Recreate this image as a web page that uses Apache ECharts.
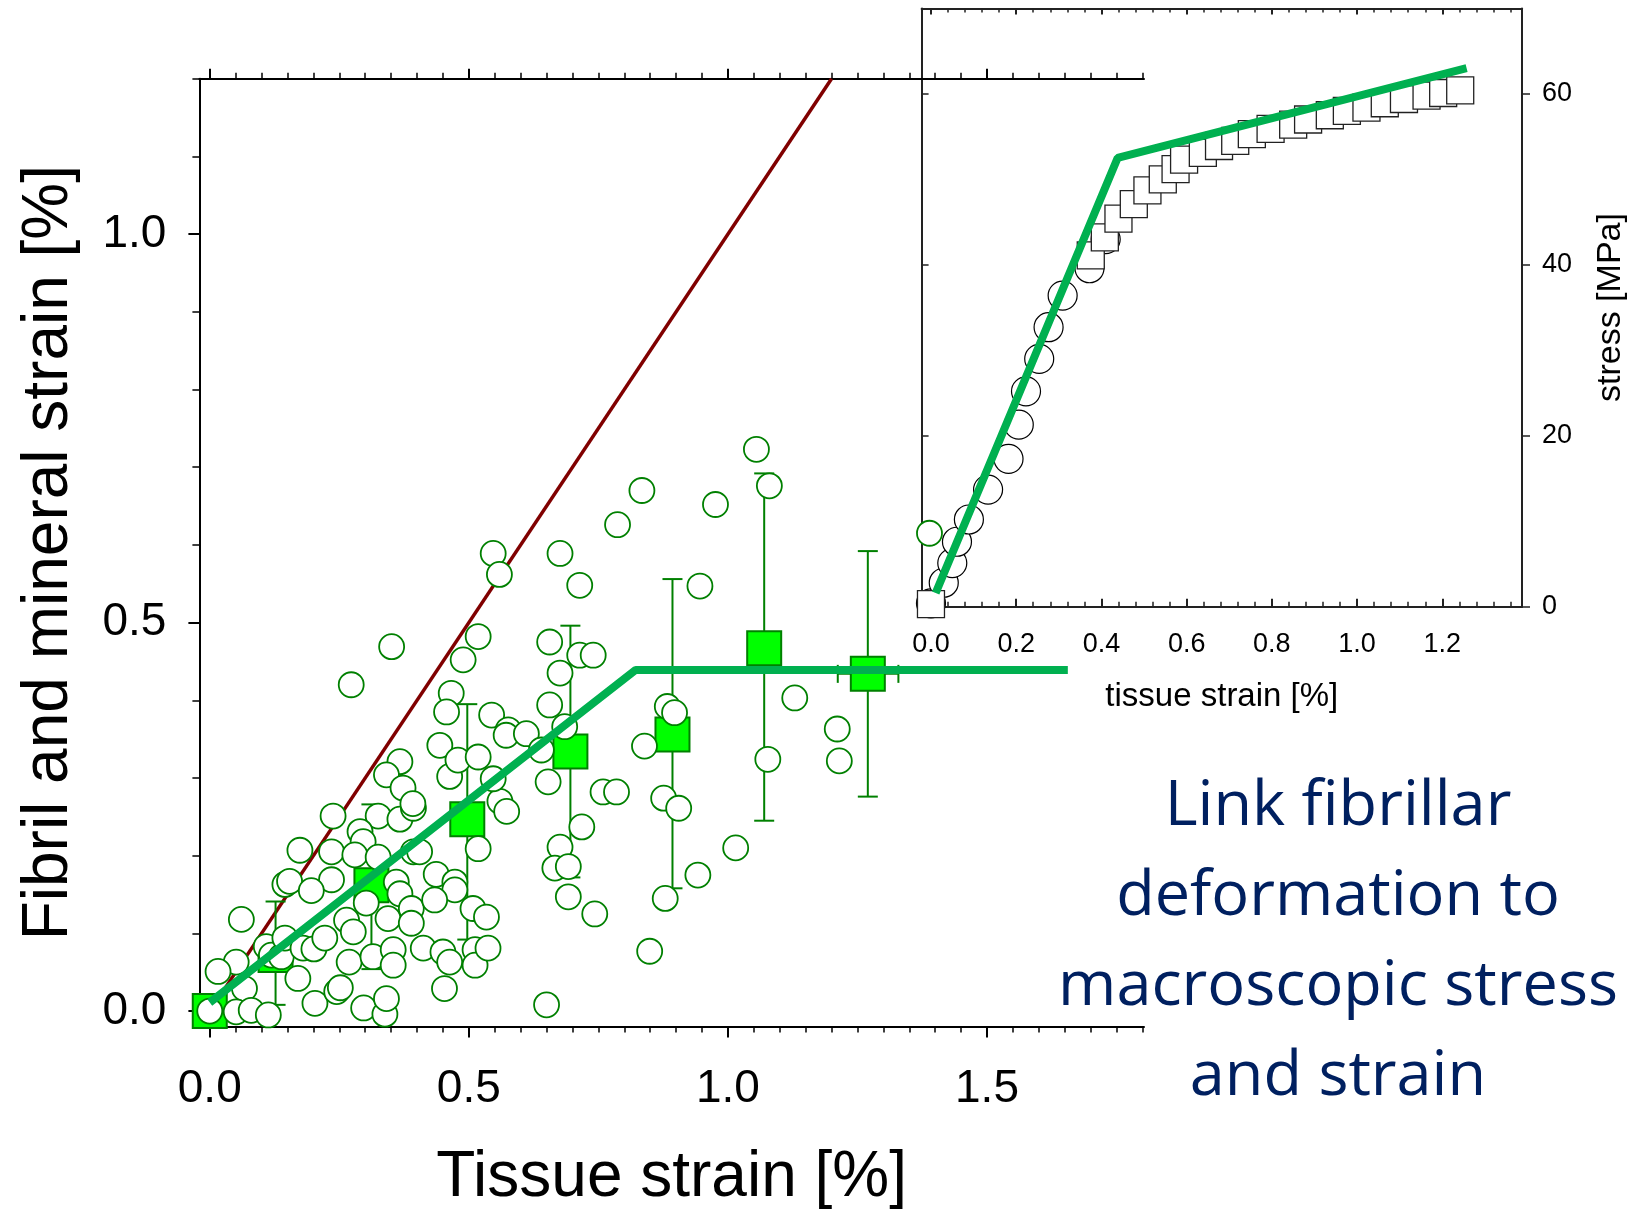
<!DOCTYPE html>
<html>
<head>
<meta charset="utf-8">
<script src="https://cdn.jsdelivr.net/npm/echarts@6/dist/echarts.min.js"></script>
<style>
  html, body { margin: 0; padding: 0; background: #fff; }
  #chart { width: 1646px; height: 1210px; }
</style>
</head>
<body>
<div id="chart"></div>
<script>
// ---- main panel: individual measurements (tissue strain %, fibril strain %)
const pointStrain = [
  [0.238,0.251],[0.325,0.251],[0.367,0.247],[0.290,0.231],[0.296,0.218],[0.174,0.207],[0.235,0.205],
  [0.280,0.201],[0.325,0.198],[0.145,0.163],[0.154,0.167],[0.235,0.169],[0.196,0.155],[0.302,0.139],
  [0.360,0.166],[0.367,0.151],[0.061,0.118],[0.264,0.117],[0.344,0.119],[0.389,0.132],[0.389,0.113],
  [0.109,0.083],[0.119,0.072],[0.138,0.070],[0.145,0.094],[0.180,0.081],[0.201,0.080],[0.222,0.094],
  [0.277,0.102],[0.269,0.063],[0.315,0.070],[0.354,0.079],[0.354,0.059],[0.051,0.063],[0.016,0.051],
  [0.067,0.029],[0.170,0.042],[0.203,0.010],[0.245,0.025],[0.252,0.030],[0.297,0.004],[0.338,-0.004],
  [0.341,0.016],[0,0],[0.051,-0.001],[0.080,0.001],[0.113,-0.005],
  [0.393,0.261],[0.560,0.270],[0.573,0.257],[0.718,0.237],[0.676,0.211],[0.666,0.184],[0.692,0.186],
  [0.692,0.147],[0.743,0.125],[0.518,0.209],[0.393,0.205],[0.405,0.205],[0.437,0.176],[0.473,0.166],
  [0.473,0.156],[0.434,0.143],[0.508,0.132],[0.534,0.121],[0.412,0.081],[0.450,0.076],[0.463,0.063],
  [0.512,0.079],[0.512,0.059],[0.537,0.081],[0.453,0.029],[0.650,0.008],
  [0.351,0.469],[0.273,0.420],[0.367,0.321],[0.341,0.304],[0.373,0.287],[0.392,0.267],
  [0.547,0.589],[0.559,0.562],[0.676,0.589],[0.714,0.548],[0.518,0.482],[0.489,0.452],[0.656,0.475],
  [0.714,0.458],[0.740,0.458],[0.676,0.435],[0.466,0.409],[0.457,0.385],[0.544,0.381],[0.576,0.362],
  [0.572,0.355],[0.611,0.357],[0.656,0.394],[0.685,0.366],[0.640,0.336],[0.444,0.342],[0.463,0.302],
  [0.479,0.323],[0.518,0.327],[0.547,0.299],[0.653,0.295],[0.759,0.282],[0.785,0.282],
  [0.834,0.670],[0.787,0.626],[0.976,0.652],[0.946,0.547],[1.055,0.723],[1.080,0.676],[0.839,0.341],
  [0.883,0.392],[0.897,0.384],[0.876,0.274],[0.905,0.261],[0.942,0.175],[0.879,0.145],[0.849,0.077],
  [1.129,0.403],[1.211,0.363],[1.215,0.322],[1.077,0.324],[1.015,0.210],[1.389,0.615]
];

// binned means with error bars
const meanTissue = [0, 0.127, 0.312, 0.497, 0.696, 0.893, 1.070, 1.270];
const meanFibril = [0, 0.072, 0.162, 0.247, 0.334, 0.356, 0.467, 0.434];
const errLow     = [0, 0.008, 0.054, 0.092, 0.172, 0.158, 0.245, 0.276];
const errHigh    = [0, 0.141, 0.266, 0.395, 0.496, 0.556, 0.692, 0.592];
const xErrLast   = [1.212, 1.329];

// fibril = tissue reference line, and the bilinear fit
const identityLine = [[-0.02, -0.02], [1.2, 1.2]];
const fitTissue = [0, 0.822, 1.656];
const fitFibril = [0.011, 0.439, 0.439];

// ---- inset: stress-strain curve
const insetCircleStrain = [0, 0.030, 0.050, 0.061, 0.089, 0.134, 0.182, 0.206, 0.223, 0.254, 0.276, 0.309, 0.372, 0.410];
const insetCircleStress = [0.4, 2.8, 5.1, 7.6, 10.2, 13.7, 17.3, 21.3, 25.2, 29.0, 32.7, 36.4, 39.6, 43.0];
const insetSquareStrain = [0, 0.375, 0.408, 0.440, 0.476, 0.508, 0.544, 0.574, 0.594, 0.638, 0.676, 0.714,
  0.753, 0.797, 0.850, 0.885, 0.936, 0.976, 1.022, 1.065, 1.110, 1.163, 1.202, 1.242];
const insetSquareStress = [0.3, 41.1, 43.2, 45.4, 47.1, 48.7, 50.0, 51.2, 52.3, 53.1, 53.9, 54.5,
  55.3, 55.9, 56.4, 57.0, 57.5, 58.0, 58.4, 58.9, 59.4, 59.8, 60.1, 60.4];
const insetFitStrain = [0.011, 0.438, 1.257];
const insetFitStress = [1.6, 52.5, 63.0];

// tick labels
const mainXLabels = [0, 0.5, 1.0, 1.5];
const mainYLabels = [0, 0.5, 1.0];
const insetXLabels = [0, 0.2, 0.4, 0.6, 0.8, 1.0, 1.2];
const insetYLabels = [0, 20, 40, 60];

const FONT = 'Liberation Sans, Arial, sans-serif';
const GREEN = '#008000';
const FIT = '#00b050';

function steps(from, to, step) {
  const out = [];
  for (let i = 0; from + i * step <= to + 1e-9; i++) out.push(+(from + i * step).toFixed(4));
  return out;
}

const zip = (a, b) => a.map((v, i) => [v, b[i]]);

const myChart = echarts.init(document.getElementById('chart'));

function baseAxis(extra) {
  return Object.assign({
    type: 'value',
    splitLine: { show: false },
    axisLine: { show: false, onZero: false, lineStyle: { color: '#000', width: 2 } },
    axisTick: { show: true },
    axisLabel: { show: false },
    nameMoveOverlap: false
  }, extra);
}

const mainX = { gridIndex: 0, min: -0.02, max: 1.803 };
const mainY = { gridIndex: 0, min: -0.02, max: 1.2 };
const insX = { gridIndex: 1, min: -0.022, max: 1.387 };
const insY = { gridIndex: 1, min: 0, max: 70 };
const insLine = { show: true, onZero: false, lineStyle: { color: '#222', width: 2 } };

const errSeries = meanTissue.map((x, i) => [x, errLow[i], errHigh[i]]).filter(d => d[2] > d[1]);

function renderErr(params, api) {
  const x = api.value(0);
  const top = api.coord([x, api.value(2)]);
  const bot = api.coord([x, api.value(1)]);
  const cap = 10;
  const st = { stroke: GREEN, lineWidth: 2 };
  return {
    type: 'group',
    children: [
      { type: 'line', shape: { x1: top[0], y1: top[1], x2: bot[0], y2: bot[1] }, style: st },
      { type: 'line', shape: { x1: top[0] - cap, y1: top[1], x2: top[0] + cap, y2: top[1] }, style: st },
      { type: 'line', shape: { x1: bot[0] - cap, y1: bot[1], x2: bot[0] + cap, y2: bot[1] }, style: st }
    ]
  };
}

function renderXErr(params, api) {
  const y = api.value(0);
  const l = api.coord([api.value(1), y]);
  const r = api.coord([api.value(2), y]);
  const cap = 9;
  const st = { stroke: GREEN, lineWidth: 2 };
  return {
    type: 'group',
    children: [
      { type: 'line', shape: { x1: l[0], y1: l[1], x2: r[0], y2: r[1] }, style: st },
      { type: 'line', shape: { x1: l[0], y1: l[1] - cap, x2: l[0], y2: l[1] + cap }, style: st },
      { type: 'line', shape: { x1: r[0], y1: r[1] - cap, x2: r[0], y2: r[1] + cap }, style: st }
    ]
  };
}

myChart.setOption({
  animation: false,
  backgroundColor: '#fff',
  grid: [
    { left: 199.4, top: 78.7, width: 944.6, height: 947.9, outerBoundsMode: 'none' },
    { left: 921.6, top: 8.4, width: 600.4, height: 598.3, outerBoundsMode: 'none' }
  ],
  xAxis: [
    // 0: main bottom, minor ticks + labels + name
    baseAxis(Object.assign({}, mainX, {
      position: 'bottom',
      axisLine: { show: true, onZero: false, lineStyle: { color: '#000', width: 2 } },
      axisTick: { show: true, length: 6, customValues: steps(0, 1.8, 0.05), lineStyle: { color: '#000', width: 1.5 } },
      axisLabel: { show: true, customValues: mainXLabels, formatter: v => v.toFixed(1),
        fontSize: 46, fontFamily: FONT, color: '#000', margin: 40 },
      name: 'Tissue strain [%]', nameLocation: 'middle', nameGap: 120,
      nameTextStyle: { fontSize: 64, fontFamily: FONT, color: '#000' }
    })),
    // 1: main bottom, major ticks
    baseAxis(Object.assign({}, mainX, {
      position: 'bottom',
      axisTick: { show: true, length: 11, customValues: mainXLabels, lineStyle: { color: '#000', width: 2 } }
    })),
    // 2: main top, line + minor ticks
    baseAxis(Object.assign({}, mainX, {
      position: 'top',
      axisLine: { show: true, onZero: false, lineStyle: { color: '#000', width: 2 } },
      axisTick: { show: true, length: 6, customValues: steps(0, 1.8, 0.05), lineStyle: { color: '#000', width: 1.5 } }
    })),
    // 3: main top, major ticks
    baseAxis(Object.assign({}, mainX, {
      position: 'top',
      axisTick: { show: true, length: 10, customValues: mainXLabels, lineStyle: { color: '#000', width: 2 } }
    })),
    // 4: inset bottom
    baseAxis(Object.assign({}, insX, {
      position: 'bottom',
      axisLine: insLine,
      axisTick: { show: true, inside: true, length: 5, customValues: steps(0, 1.36, 0.04), lineStyle: { color: '#222', width: 1.5 } },
      axisLabel: { show: true, customValues: insetXLabels, formatter: v => v.toFixed(1),
        fontSize: 27, fontFamily: FONT, color: '#000', margin: 24 },
      name: 'tissue strain [%]', nameLocation: 'middle', nameGap: 74,
      nameTextStyle: { fontSize: 33, fontFamily: FONT, color: '#000' }
    })),
    // 5: inset bottom major ticks
    baseAxis(Object.assign({}, insX, {
      position: 'bottom',
      axisTick: { show: true, inside: true, length: 8, customValues: insetXLabels, lineStyle: { color: '#222', width: 2 } }
    })),
    // 6: inset top
    baseAxis(Object.assign({}, insX, {
      position: 'top',
      axisLine: insLine,
      axisTick: { show: true, inside: true, length: 4, customValues: steps(0, 1.36, 0.04), lineStyle: { color: '#222', width: 1.5 } }
    })),
    // 7: inset top major ticks
    baseAxis(Object.assign({}, insX, {
      position: 'top',
      axisTick: { show: true, inside: true, length: 6, customValues: insetXLabels, lineStyle: { color: '#222', width: 2 } }
    }))
  ],
  yAxis: [
    // 0: main left, minor ticks + labels + name
    baseAxis(Object.assign({}, mainY, {
      position: 'left',
      axisLine: { show: true, onZero: false, lineStyle: { color: '#000', width: 2 } },
      axisTick: { show: true, length: 7, customValues: steps(0, 1.2, 0.1), lineStyle: { color: '#000', width: 1.5 } },
      axisLabel: { show: true, customValues: mainYLabels, formatter: v => v.toFixed(1),
        fontSize: 46, fontFamily: FONT, color: '#000', margin: 33 },
      name: 'Fibril and mineral strain [%]', nameLocation: 'middle', nameGap: 118,
      nameTextStyle: { fontSize: 64, fontFamily: FONT, color: '#000' }
    })),
    // 1: main left major ticks
    baseAxis(Object.assign({}, mainY, {
      position: 'left',
      axisTick: { show: true, length: 11, customValues: mainYLabels, lineStyle: { color: '#000', width: 2 } }
    })),
    // 2: inset left
    baseAxis(Object.assign({}, insY, {
      position: 'left',
      axisLine: insLine,
      axisTick: { show: true, inside: true, length: 7, customValues: [20, 40, 60], lineStyle: { color: '#222', width: 1.5 } }
    })),
    // 3: inset right
    baseAxis(Object.assign({}, insY, {
      position: 'right',
      axisLine: insLine,
      axisTick: { show: true, length: 8, customValues: insetYLabels, lineStyle: { color: '#222', width: 1.5 } },
      axisLabel: { show: true, customValues: insetYLabels, fontSize: 27, fontFamily: FONT, color: '#000', margin: 20 },
      name: 'stress [MPa]', nameLocation: 'middle', nameGap: 72,
      nameTextStyle: { fontSize: 34, fontFamily: FONT, color: '#000' }
    }))
  ],
  series: [
    {
      type: 'line', xAxisIndex: 0, yAxisIndex: 0, z: 1,
      data: identityLine, symbol: 'none',
      lineStyle: { color: '#800000', width: 3.5 }
    },
    {
      type: 'custom', xAxisIndex: 0, yAxisIndex: 0, z: 2,
      renderItem: renderErr, data: errSeries
    },
    {
      type: 'custom', xAxisIndex: 0, yAxisIndex: 0, z: 2,
      renderItem: renderXErr, data: [[meanFibril[meanFibril.length - 1], xErrLast[0], xErrLast[1]]]
    },
    {
      type: 'scatter', xAxisIndex: 0, yAxisIndex: 0, z: 3,
      data: zip(meanTissue, meanFibril), symbol: 'rect', symbolSize: 34,
      itemStyle: { color: '#00ff00', borderColor: GREEN, borderWidth: 2, opacity: 1 }
    },
    {
      type: 'scatter', xAxisIndex: 0, yAxisIndex: 0, z: 4,
      data: pointStrain, symbol: 'circle', symbolSize: 25,
      itemStyle: { color: '#fff', borderColor: GREEN, borderWidth: 1.8, opacity: 1 }
    },
    {
      type: 'line', xAxisIndex: 0, yAxisIndex: 0, z: 5,
      data: zip(fitTissue, fitFibril), symbol: 'none',
      lineStyle: { color: FIT, width: 8, cap: 'butt' }
    },
    {
      type: 'scatter', xAxisIndex: 4, yAxisIndex: 2, z: 3,
      data: zip(insetCircleStrain, insetCircleStress), symbol: 'circle', symbolSize: 29,
      itemStyle: { color: '#fff', borderColor: '#000', borderWidth: 1.2, opacity: 1 }
    },
    {
      type: 'scatter', xAxisIndex: 4, yAxisIndex: 2, z: 4,
      data: zip(insetSquareStrain, insetSquareStress), symbol: 'rect', symbolSize: 27,
      itemStyle: { color: '#fff', borderColor: '#222', borderWidth: 1.3, opacity: 1 }
    },
    {
      type: 'line', xAxisIndex: 4, yAxisIndex: 2, z: 5,
      data: zip(insetFitStrain, insetFitStress), symbol: 'none',
      lineStyle: { color: FIT, width: 8 }
    }
  ],
  graphic: [{
    type: 'text', x: 1338, y: 942, z: 10,
    style: {
      text: 'Link fibrillar\ndeformation to\nmacroscopic stress\nand strain',
      fill: '#002060', fontSize: 63, fontFamily: 'Open Sans, Noto Sans, sans-serif',
      align: 'center', verticalAlign: 'middle', lineHeight: 90
    }
  }]
});
</script>
</body>
</html>
